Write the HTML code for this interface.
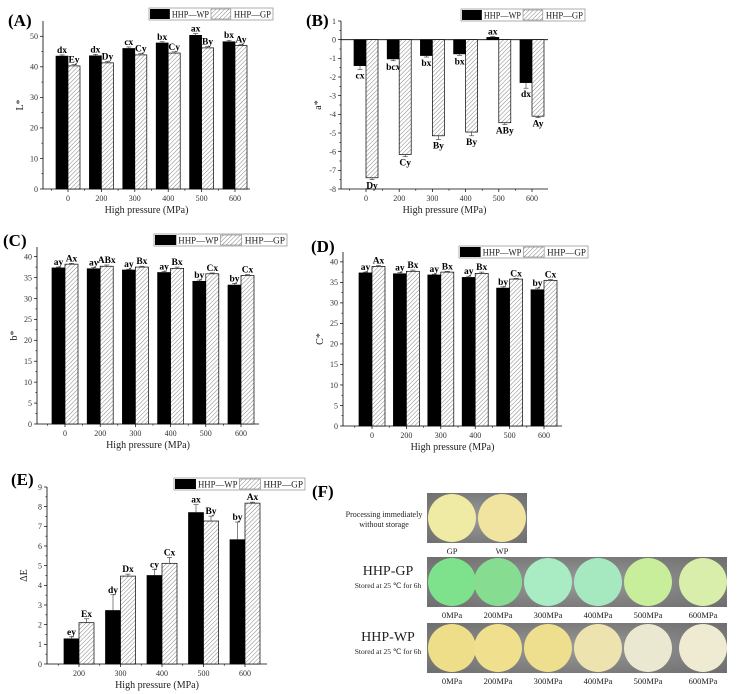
<!DOCTYPE html>
<html><head><meta charset="utf-8"><style>
html,body{margin:0;padding:0;background:#fff;}
svg{display:block;font-family:"Liberation Serif",serif;}
</style></head><body>
<svg id="fig" width="740" height="694" viewBox="0 0 740 694" xmlns="http://www.w3.org/2000/svg">
<defs>
<pattern id="hatch" patternUnits="userSpaceOnUse" width="3" height="3" patternTransform="rotate(45)">
<rect width="3" height="3" fill="#fff"/><line x1="0" y1="0" x2="0" y2="3" stroke="#777" stroke-width="0.9"/>
</pattern>
<radialGradient id="bgGray" cx="50%" cy="50%" r="70%"><stop offset="0" stop-color="#9a9a9a"/><stop offset="1" stop-color="#6e6e6e"/></radialGradient>
</defs>
</svg>
<script>
// ---- Data (A) L*
const catsA=["0","200","300","400","500","600"];
const wpA=[43.5,43.6,46.0,47.8,50.3,48.2];
const gpA=[40.3,41.3,43.9,44.5,46.2,47.0];
const wpErrA=[0.4,0.5,0.5,0.4,0.6,0.5];
const gpErrA=[0.4,0.5,0.4,0.4,0.4,0.3];
const wpLabA=["dx","dx","cx","bx","ax","bx"];
const gpLabA=["Ey","Dy","Cy","Cy","By","Ay"];
const ticksA=[0,10,20,30,40,50];
// ---- Data (B) a*
const catsB=["0","200","300","400","500","600"];
const wpB=[-1.39,-1.03,-0.85,-0.76,0.12,-2.3];
const gpB=[-7.4,-6.15,-5.15,-4.95,-4.45,-4.1];
const wpErrB=[0.2,0.1,0.08,0.08,0.05,0.3];
const gpErrB=[0.1,0.12,0.2,0.2,0.1,0.08];
const wpLabB=["cx","bcx","bx","bx","ax","dx"];
const gpLabB=["Dy","Cy","By","By","ABy","Ay"];
const ticksB=[-8,-7,-6,-5,-4,-3,-2,-1,0,1];
// ---- Data (C) b*
const catsC=["0","200","300","400","500","600"];
const wpC=[37.3,37.1,36.8,36.2,34.1,33.2];
const gpC=[38.2,37.7,37.5,37.2,35.9,35.5];
const wpErrC=[0.2,0.3,0.2,0.3,0.3,0.4];
const gpErrC=[0.2,0.3,0.2,0.3,0.2,0.2];
const wpLabC=["ay","ay","ay","ay","by","by"];
const gpLabC=["Ax","ABx","Bx","Bx","Cx","Cx"];
const ticksC=[0,5,10,15,20,25,30,35,40];
// ---- Data (D) C*
const catsD=["0","200","300","400","500","600"];
const wpD=[37.3,37.1,36.8,36.2,33.6,33.2];
const gpD=[38.9,37.7,37.5,37.2,35.8,35.5];
const wpErrD=[0.2,0.3,0.2,0.3,0.3,0.4];
const gpErrD=[0.2,0.3,0.2,0.3,0.2,0.2];
const wpLabD=["ay","ay","ay","ay","by","by"];
const gpLabD=["Ax","Bx","Bx","Bx","Cx","Cx"];
const ticksD=[0,5,10,15,20,25,30,35,40];
// ---- Data (E) ΔE
const catsE=["200","300","400","500","600"];
const wpE=[1.28,2.72,4.5,7.7,6.32];
const gpE=[2.1,4.47,5.12,7.27,8.18];
const wpErrE=[0.1,0.8,0.3,0.4,0.9];
const gpErrE=[0.2,0.1,0.3,0.25,0.05];
const wpLabE=["ey","dy","cy","ax","by"];
const gpLabE=["Ex","Dx","Cx","By","Ax"];
const ticksE=[0,1,2,3,4,5,6,7,8,9];

const svg=document.getElementById('fig');
const NS="http://www.w3.org/2000/svg";
function mk(tag,attrs,parent,text){const e=document.createElementNS(NS,tag);for(const k in attrs)e.setAttribute(k,attrs[k]);if(text!==undefined)e.textContent=text;(parent||svg).appendChild(e);return e;}

function chart(o){
  const g=mk('g',{});
  
  
  const y=v=>o.yBot-(v-o.vMin)/(o.vMax-o.vMin)*(o.yBot-o.yTop);
  const cx=i=>o.cat0+i*o.catStep;
  const pl=mk('text',{x:o.lx,y:o.ly,'font-size':17,'font-weight':'bold'},g,o.letter);
  
  
  mk('line',{x1:o.ax,y1:o.yTop,x2:o.ax,y2:o.yBot,stroke:'#000','stroke-width':0.8},g);
  mk('line',{x1:o.ax,y1:o.yBot,x2:o.ax1,y2:o.yBot,stroke:'#000','stroke-width':0.8},g);
  if(o.vMin<0) mk('line',{x1:o.ax,y1:y(0),x2:o.ax1,y2:y(0),stroke:'#000','stroke-width':0.8},g);
  o.ticks.forEach((t,k)=>{
    mk('line',{x1:o.ax-3,y1:y(t),x2:o.ax,y2:y(t),stroke:'#000','stroke-width':0.7},g);
    if(k<o.ticks.length-1){const m=(t+o.ticks[k+1])/2;mk('line',{x1:o.ax-1.6,y1:y(m),x2:o.ax,y2:y(m),stroke:'#000','stroke-width':0.6},g);}
    const tl=mk('text',{x:o.ax-5,y:y(t)+2.8,'font-size':8,'text-anchor':'end',fill:'#333'},g,String(t));
    
    
  });
  o.cats.forEach((c,i)=>{
    mk('line',{x1:cx(i),y1:o.yBot,x2:cx(i),y2:o.yBot+3,stroke:'#000','stroke-width':0.7},g);
    mk('line',{x1:cx(i)-o.catStep/2,y1:o.yBot,x2:cx(i)-o.catStep/2,y2:o.yBot+1.8,stroke:'#000','stroke-width':0.6},g);
    const xl=mk('text',{x:cx(i),y:o.yBot+12,'font-size':8,'text-anchor':'middle',fill:'#333'},g,c);
    
    
  });
  const xt=mk('text',{x:(o.ax+o.ax1)/2,y:o.yBot+24,'font-size':10,'text-anchor':'middle',fill:'#222'},g,'High pressure (MPa)');
  
  
  const yt=mk('text',{x:0,y:0,'font-size':10,'text-anchor':'middle',fill:'#222',transform:`translate(${o.ax-20},${(o.yTop+o.yBot)/2}) rotate(-90)`},g,o.ylabel);
  
  
  const series=[[o.wp,o.wpErr,o.wpLab,'#000',-1,'wp'],[o.gp,o.gpErr,o.gpLab,'url(#hatch)',0,'gp']];
  series.forEach(([vals,errs,labs,fill,off,sn])=>{
    vals.forEach((v,i)=>{
      const x=cx(i)+off*o.bw;
      const y0=y(0),y1=y(v);
      const r=mk('rect',{x:x,y:Math.min(y0,y1),width:o.bw,height:Math.abs(y1-y0),fill:fill,stroke:'#000','stroke-width':0.7},g);
      
      
      const mx=x+o.bw/2, dir=v>=0?-1:1;
      const ye=y(v+(v>=0?errs[i]:-errs[i]));
      mk('line',{x1:mx,y1:y1,x2:mx,y2:ye,stroke:'#333','stroke-width':0.6},g);
      mk('line',{x1:mx-2.5,y1:ye,x2:mx+2.5,y2:ye,stroke:'#333','stroke-width':0.6},g);
      const ly=dir<0?ye-2:ye+9;
      const lt=mk('text',{x:mx,y:ly,'font-size':9.5,'font-weight':'bold','text-anchor':'middle'},g,labs[i]);
      
      
    });
  });
  const L=o.leg;
  const lg=mk('g',{},g);
  
  
  const w=L.w,h=L.h;
  mk('rect',{x:L.x,y:L.y,width:w,height:h,fill:'#fff',stroke:'#999','stroke-width':0.8},lg);
  const bw=w*0.16;
  const tw=w*0.5-bw-5;
  mk('rect',{x:L.x+1,y:L.y+1,width:bw,height:h-2,fill:'#000'},lg);
  const t1=mk('text',{x:L.x+bw+3,y:L.y+h-2.5,'font-size':h-3,fill:'#222',textLength:tw,lengthAdjust:'spacingAndGlyphs'},lg,'HHP\u2014WP');
  
  
  mk('rect',{x:L.x+w*0.5,y:L.y+1,width:bw,height:h-2,fill:'url(#hatch)',stroke:'#666','stroke-width':0.5},lg);
  const t2=mk('text',{x:L.x+w*0.5+bw+3,y:L.y+h-2.5,'font-size':h-3,fill:'#222',textLength:tw,lengthAdjust:'spacingAndGlyphs'},lg,'HHP\u2014GP');
  
  
}

chart({name:'chart-a-lightness',letter:'(A)',lx:8,ly:26,ax:43,ax1:250,yTop:21,yBot:189,vMin:0,vMax:55,ticks:ticksA,cat0:68,catStep:33.4,bw:12,cats:catsA,wp:wpA,gp:gpA,wpErr:wpErrA,gpErr:gpErrA,wpLab:wpLabA,gpLab:gpLabA,ylabel:'L*',leg:{x:149,y:8,w:124,h:12}});
chart({name:'chart-b-redness',letter:'(B)',lx:306,ly:26,ax:341,ax1:548,yTop:21,yBot:189,vMin:-8,vMax:1,ticks:ticksB,cat0:366,catStep:33.2,bw:12,cats:catsB,wp:wpB,gp:gpB,wpErr:wpErrB,gpErr:gpErrB,wpLab:wpLabB,gpLab:gpLabB,ylabel:'a*',leg:{x:461,y:9,w:124,h:12}});
chart({name:'chart-c-yellowness',letter:'(C)',lx:3,ly:246,ax:37,ax1:259,yTop:247,yBot:424,vMin:0,vMax:42.3,ticks:ticksC,cat0:65,catStep:35.2,bw:13,cats:catsC,wp:wpC,gp:gpC,wpErr:wpErrC,gpErr:gpErrC,wpLab:wpLabC,gpLab:gpLabC,ylabel:'b*',leg:{x:154,y:234,w:133,h:12}});
chart({name:'chart-d-chroma',letter:'(D)',lx:311,ly:252,ax:343,ax1:562,yTop:252,yBot:426,vMin:0,vMax:42.4,ticks:ticksD,cat0:372,catStep:34.4,bw:13,cats:catsD,wp:wpD,gp:gpD,wpErr:wpErrD,gpErr:gpErrD,wpLab:wpLabD,gpLab:gpLabD,ylabel:'C*',leg:{x:459,y:246,w:129,h:12}});
chart({name:'chart-e-color-difference',letter:'(E)',lx:11,ly:485,ax:47,ax1:267,yTop:487,yBot:664,vMin:0,vMax:9,ticks:ticksE,cat0:79,catStep:41.5,bw:15,cats:catsE,wp:wpE,gp:gpE,wpErr:wpErrE,gpErr:gpErrE,wpLab:wpLabE,gpLab:gpLabE,ylabel:'\u0394E',leg:{x:174,y:478,w:131,h:12}});

// ---- Panel F photos
const fg=mk('g',{});


const fl=mk('text',{x:312,y:497,'font-size':17,'font-weight':'bold'},fg,'(F)');


function txt(x,y,s,size,name){const t=mk('text',{x:x,y:y,'font-size':size,'text-anchor':'middle',fill:'#222'},fg,s);return t;}
txt(384,517,'Processing immediately',8,'caption-immediate');
txt(384,527,'without storage',8,'caption-immediate');
mk('rect',{x:427,y:493,width:100,height:50,fill:'url(#bgGray)'},fg);
const topCols=['#efeba4','#f1e4a0'];
[452,502].forEach((x,i)=>{const c=mk('circle',{cx:x,cy:518,r:24,fill:topCols[i]},fg);});
txt(452,554,'GP',8.5,'photo-label');txt(502,554,'WP',8.5,'photo-label');
const rowX=[452,498,548,598,648,703];
const rowLab=['0MPa','200MPa','300MPa','400MPa','500MPa','600MPa'];
const gpCols=['#7ee28c','#86dd92','#a9ebc3','#a6e8c0','#c8ee9c','#d9eeaa'];
const wpCols=['#eede8a','#f0e08e','#eedf8e','#ede3ae','#ebe8d2','#eeebd2'];
function row(y0,cols,title){
  mk('rect',{x:427,y:y0,width:300,height:50,fill:'url(#bgGray)'},fg);
  rowX.forEach((x,i)=>{const c=mk('circle',{cx:x,cy:y0+25,r:24,fill:cols[i]},fg);});
  rowLab.forEach((s,i)=>txt(rowX[i],y0+61,s,8.5,'photo-label'));
  txt(388,y0+18,title,14,'row-title');
  txt(388,y0+31,'Stored at 25 \u2103 for 6h',7.5,'row-caption');
}
row(557,gpCols,'HHP-GP');
row(623,wpCols,'HHP-WP');
</script>
</body></html>
